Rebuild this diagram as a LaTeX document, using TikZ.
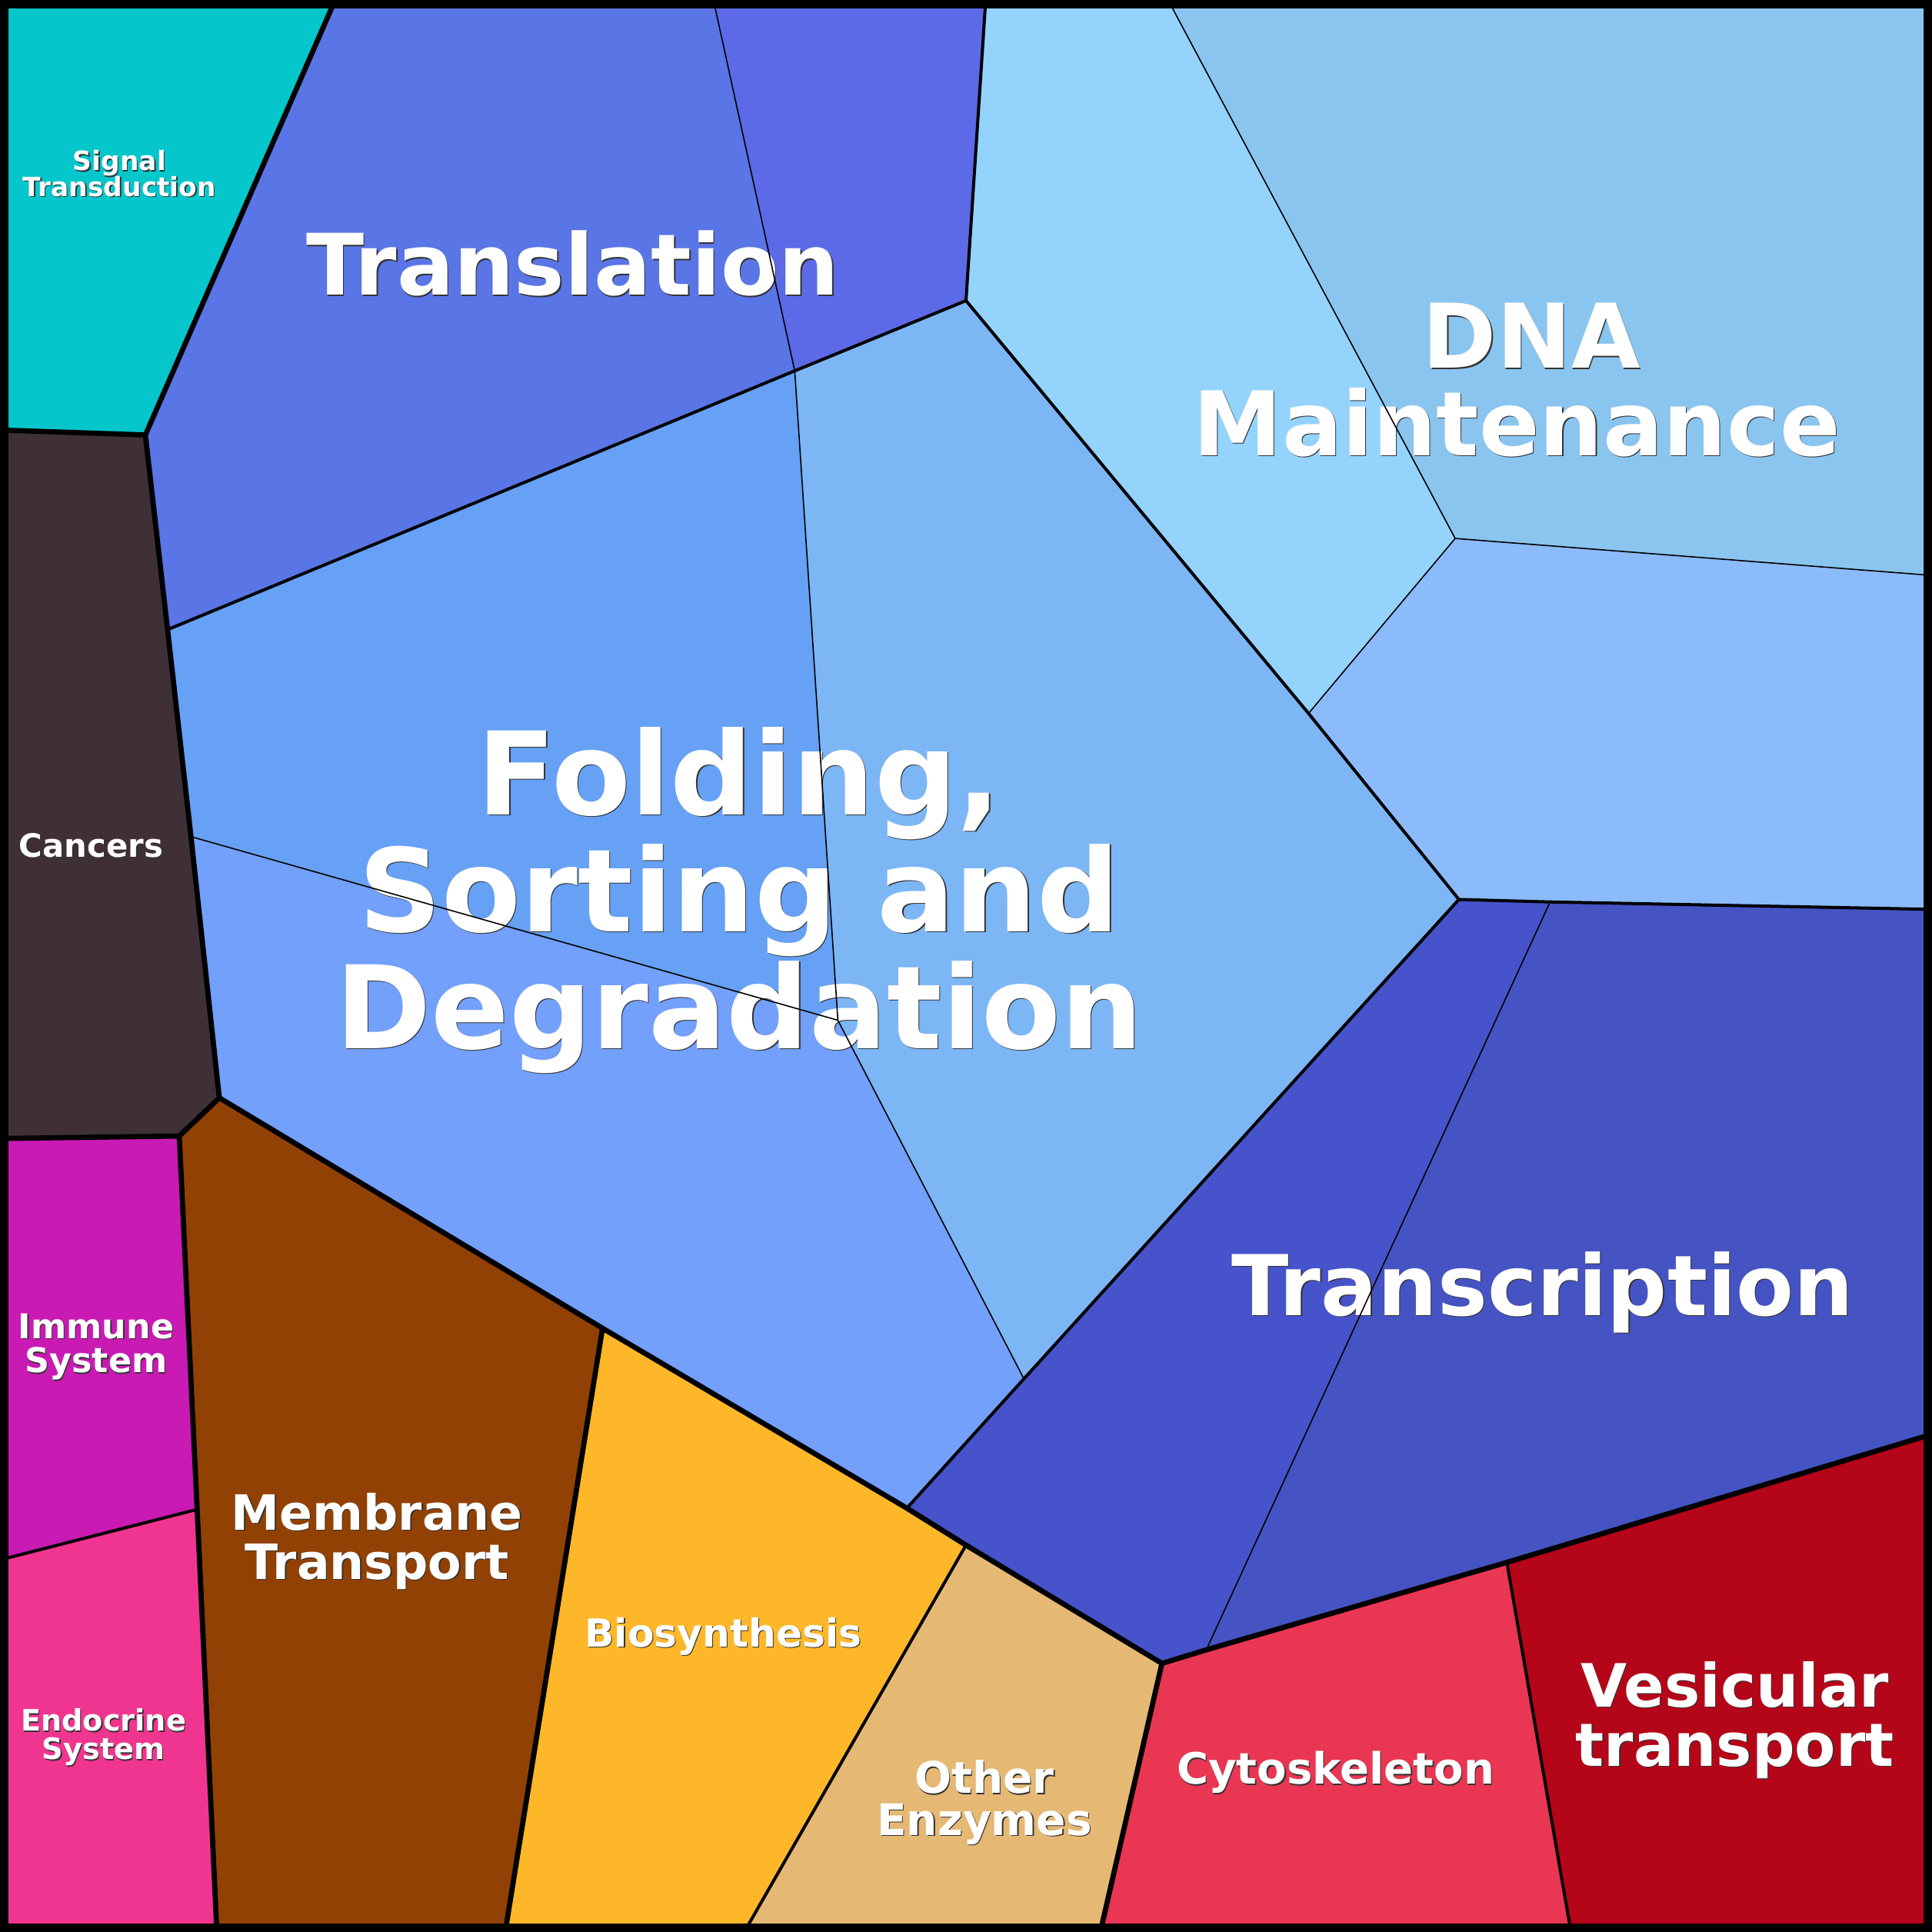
\documentclass[tikz,border=0pt]{standalone}
\usepackage{fontspec}
\setmainfont{DejaVu Sans}
\definecolor{signalc}{HTML}{05C6CB}
\definecolor{translA}{HTML}{5975E6}
\definecolor{translB}{HTML}{5C6AE8}
\definecolor{foldA}{HTML}{66A1F5}
\definecolor{foldB}{HTML}{72A0FB}
\definecolor{foldC}{HTML}{7CB6F5}
\definecolor{dnaA}{HTML}{94D3FC}
\definecolor{dnaB}{HTML}{8AC5F0}
\definecolor{dnaC}{HTML}{8CBBFC}
\definecolor{transcA}{HTML}{4653CB}
\definecolor{transcB}{HTML}{4553C3}
\definecolor{cancerc}{HTML}{3E3036}
\definecolor{immunec}{HTML}{C91AB3}
\definecolor{endoc}{HTML}{F03590}
\definecolor{membranec}{HTML}{924104}
\definecolor{biosync}{HTML}{FDB728}
\definecolor{enzymec}{HTML}{E5B873}
\definecolor{cytoc}{HTML}{E83653}
\definecolor{vesic}{HTML}{B50519}
\tikzset{
  thickedge/.style={line width=4.2pt, line cap=round, line join=round},
  midedge/.style={line width=2.5pt, line cap=round},
  thinedge/.style={line width=1pt, line cap=round},
  lbl/.style={text=white, align=center, inner sep=0pt},
  lblshadow/.style={lbl, text=black!80, xshift=0.8pt, yshift=-0.8pt},
}
% name, position, font size, line skip, text
\newcommand{\celllabel}[5]{%
  \node[lblshadow, font={\fontsize{#3}{#4}\selectfont\bfseries}] at (#2) {#5};
  \node[lbl, font={\fontsize{#3}{#4}\selectfont\bfseries}] (#1) at (#2) {#5};}

\begin{document}
\begin{tikzpicture}[x=1pt, y=-1pt]
\useasboundingbox (0,0) rectangle (1568,1568);
% border points
\coordinate (ctl) at (0,0);      \coordinate (ctr) at (1568,0);
\coordinate (cbr) at (1568,1568); \coordinate (cbl) at (0,1568);
\coordinate (t1) at (272,0);  \coordinate (t2) at (579,0);
\coordinate (t3) at (800,0);  \coordinate (t4) at (948,0);
\coordinate (l1) at (0,349);  \coordinate (l2) at (0,924);
\coordinate (l3) at (0,1266);
\coordinate (r1) at (1568,467); \coordinate (r2) at (1568,738);
\coordinate (r3) at (1568,1164);
\coordinate (b1) at (176,1568); \coordinate (b2) at (410,1568);
\coordinate (b3) at (604,1568); \coordinate (b4) at (893,1568);
\coordinate (b5) at (1275,1568);
% inner vertices
\coordinate (a) at (118,353);   \coordinate (b) at (136,511);
\coordinate (c) at (645,301);   \coordinate (d) at (784,244);
\coordinate (e) at (155,679);   \coordinate (f) at (680,828);
\coordinate (g) at (178,891);   \coordinate (h) at (145.5,922);
\coordinate (i) at (160,1225);  \coordinate (j) at (489,1078);
\coordinate (k) at (736,1224);  \coordinate (m) at (784,1254);
\coordinate (n) at (943,1350);  \coordinate (o) at (979,1339);
\coordinate (p) at (1223,1268); \coordinate (q) at (831,1119);
\coordinate (s) at (1184,730);  \coordinate (u) at (1258,732);
\coordinate (v) at (1062,579);  \coordinate (w) at (1181,437);

% cells
\fill[signalc] (ctl) -- (t1) -- (a) -- (l1) -- cycle;
\fill[translA] (t1) -- (t2) -- (c) -- (b) -- (a) -- cycle;
\fill[translB] (t2) -- (t3) -- (d) -- (c) -- cycle;
\fill[foldA] (b) -- (c) -- (f) -- (e) -- cycle;
\fill[foldB] (e) -- (f) -- (q) -- (k) -- (j) -- (g) -- cycle;
\fill[foldC] (c) -- (d) -- (v) -- (s) -- (q) -- (f) -- cycle;
\fill[dnaA] (t3) -- (t4) -- (w) -- (v) -- (d) -- cycle;
\fill[dnaB] (t4) -- (ctr) -- (r1) -- (w) -- cycle;
\fill[dnaC] (w) -- (r1) -- (r2) -- (u) -- (s) -- (v) -- cycle;
\fill[transcA] (s) -- (u) -- (o) -- (n) -- (m) -- (k) -- (q) -- cycle;
\fill[transcB] (u) -- (r2) -- (r3) -- (p) -- (o) -- cycle;
\fill[cancerc] (l1) -- (a) -- (b) -- (e) -- (g) -- (h) -- (l2) -- cycle;
\fill[immunec] (l2) -- (h) -- (i) -- (l3) -- cycle;
\fill[endoc] (l3) -- (i) -- (b1) -- (cbl) -- cycle;
\fill[membranec] (h) -- (g) -- (j) -- (b2) -- (b1) -- (i) -- cycle;
\fill[biosync] (j) -- (k) -- (m) -- (b3) -- (b2) -- cycle;
\fill[enzymec] (m) -- (n) -- (b4) -- (b3) -- cycle;
\fill[cytoc] (n) -- (o) -- (p) -- (b5) -- (b4) -- cycle;
\fill[vesic] (p) -- (r3) -- (cbr) -- (b5) -- cycle;

% labels
\celllabel{signal}{97,141}{21.5}{21}{Signal\\Transduction}
\celllabel{translation}{465,214}{68.8}{69}{Translation}
\celllabel{dna}{1231,308.5}{72.4}{71}{\hspace*{24pt}DNA\\Maintenance}
\celllabel{folding}{600,730.6}{93.6}{95}{Folding,\\Sorting and\\Degradation}
\celllabel{transcription}{1252,1049}{68.1}{69}{Transcription}
\celllabel{cancers}{74,686}{26.1}{26}{Cancers}
\celllabel{immune}{78,1093}{27.7}{28}{Immune\\System}
\celllabel{endocrine}{84,1410}{23.9}{23}{Endocrine\\System}
\celllabel{membrane}{306,1251}{39.5}{40}{Membrane\\Transport}
\celllabel{biosynthesis}{587,1328}{31.4}{32}{Biosynthesis}
\celllabel{enzymes}{799,1463}{35.3}{34}{Other\\Enzymes}
\celllabel{cytoskeleton}{1084,1438.5}{35}{35}{Cytoskeleton}
\celllabel{vesicular}{1408,1396}{48.5}{48}{Vesicular\\transport}

% thin edges
\draw[thinedge] (t2) -- (c);
\draw[thinedge] (c) -- (f);
\draw[thinedge] (e) -- (f) -- (q);
\draw[thinedge] (t4) -- (w) -- (r1);
\draw[thinedge] (w) -- (v);
\draw[thinedge] (u) -- (o);
% mid edges
\draw[midedge] (b) -- (c) -- (d) -- (t3);
\draw[midedge] (d) -- (v) -- (s) -- (u) -- (r2);
\draw[midedge] (s) -- (q) -- (k);
\draw[midedge] (i) -- (l3);
\draw[midedge] (m) -- (b3);
\draw[midedge] (p) -- (b5);
% thick edges
\draw[thickedge] (t1) -- (a) -- (l1);
\draw[thickedge] (a) -- (b) -- (e) -- (g) -- (h) -- (l2);
\draw[thickedge] (h) -- (i) -- (b1);
\draw[thickedge] (g) -- (j) -- (k) -- (m) -- (n) -- (o) -- (p) -- (r3);
\draw[thickedge] (j) -- (b2);
\draw[thickedge] (n) -- (b4);
% frame
\draw[line width=7pt] (3.5,3.5) rectangle (1564.5,1564.5);
\end{tikzpicture}
\end{document}
